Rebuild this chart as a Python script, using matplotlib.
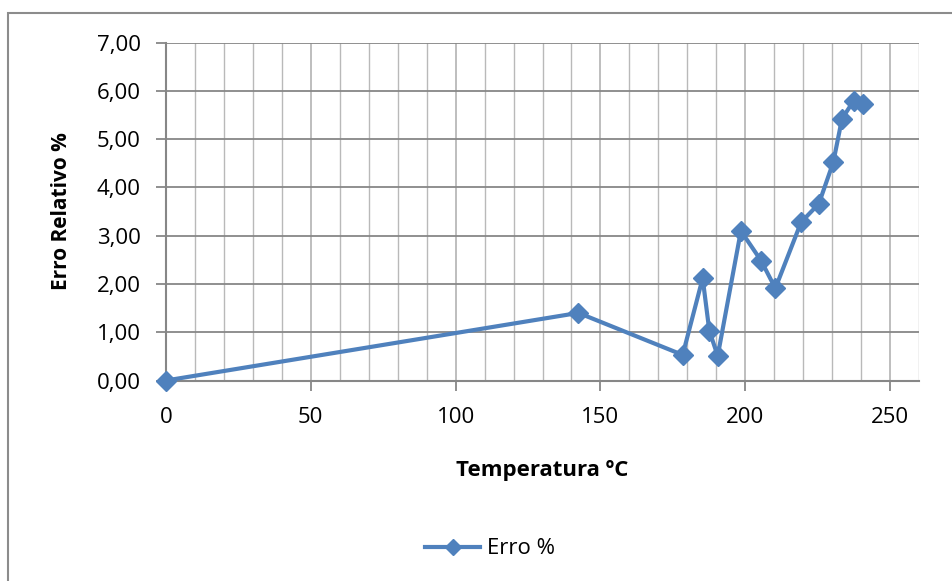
import matplotlib.pyplot as plt
from matplotlib.patches import Rectangle
from matplotlib.ticker import FuncFormatter, MultipleLocator

# temperatura (ºC) e erro relativo (%)
temperatura = [0, 142.4, 178.4, 185.3, 187.6, 190.5, 198.5, 205.5, 210.4,
               219.3, 225.4, 230.4, 233.4, 237.5, 240.6]
erro = [0.00, 1.40, 0.53, 2.12, 1.03, 0.51, 3.10, 2.48, 1.91,
        3.28, 3.66, 4.52, 5.42, 5.80, 5.72]
serie_nome = "Erro %"

AZUL = "#4F81BD"
GRID_H = "#878787"
GRID_V = "#b9b9b9"

plt.rcParams["font.family"] = ["Open Sans", "DejaVu Sans"]

W, H = 953, 581
fig = plt.figure(figsize=(W / 100, H / 100), dpi=100)
ax = fig.add_axes([166 / W, 1 - 380.5 / H, (919 - 166) / W, (380.5 - 42.6) / H])

# moldura do gráfico
fig.patches.append(Rectangle((8 / W, -0.1), 1.2, 1 - 13 / H + 0.1,
                             transform=fig.transFigure, fill=False,
                             edgecolor="#8c8c8c", linewidth=1.5))

ax.set_xlim(0, 260)
ax.set_ylim(0, 7)

ax.xaxis.set_major_locator(MultipleLocator(50))
ax.xaxis.set_minor_locator(MultipleLocator(10))
ax.yaxis.set_major_locator(MultipleLocator(1))
ax.yaxis.set_major_formatter(FuncFormatter(lambda v, _: f"{v:.2f}".replace(".", ",")))

ax.grid(True, which="minor", axis="x", color=GRID_V, linewidth=1.0)
ax.grid(True, which="major", axis="x", color=GRID_V, linewidth=1.3)
ax.grid(True, which="major", axis="y", color=GRID_H, linewidth=1.3)
ax.set_axisbelow(True)

for side in ("top", "right"):
    ax.spines[side].set_visible(False)
for side in ("left", "bottom"):
    ax.spines[side].set_color(GRID_H)
    ax.spines[side].set_linewidth(1.5)

ax.tick_params(axis="both", which="major", direction="out", length=7,
               width=1.3, color=GRID_H, labelsize=16)
ax.tick_params(axis="x", which="minor", length=0)
ax.tick_params(axis="y", pad=11)
ax.tick_params(axis="x", pad=12)

ax.plot(temperatura, erro, color=AZUL, linewidth=3.0, marker="D",
        markersize=10.5, markerfacecolor=AZUL, markeredgecolor=AZUL,
        label=serie_nome, clip_on=False, zorder=3)

ax.set_xlabel("Temperatura ºC", fontsize=16, fontweight="bold")
ax.set_ylabel("Erro Relativo %", fontsize=15, fontweight="bold")
ax.xaxis.set_label_coords(0.5, -0.235)
ax.yaxis.set_label_coords(-0.125, 0.5)

fig.legend(loc="center", bbox_to_anchor=(490 / W, 1 - 549 / H),
           frameon=False, fontsize=16, handlelength=2.5, handletextpad=0.3,
           markerscale=0.8)

fig.savefig("out.png", dpi=100)
